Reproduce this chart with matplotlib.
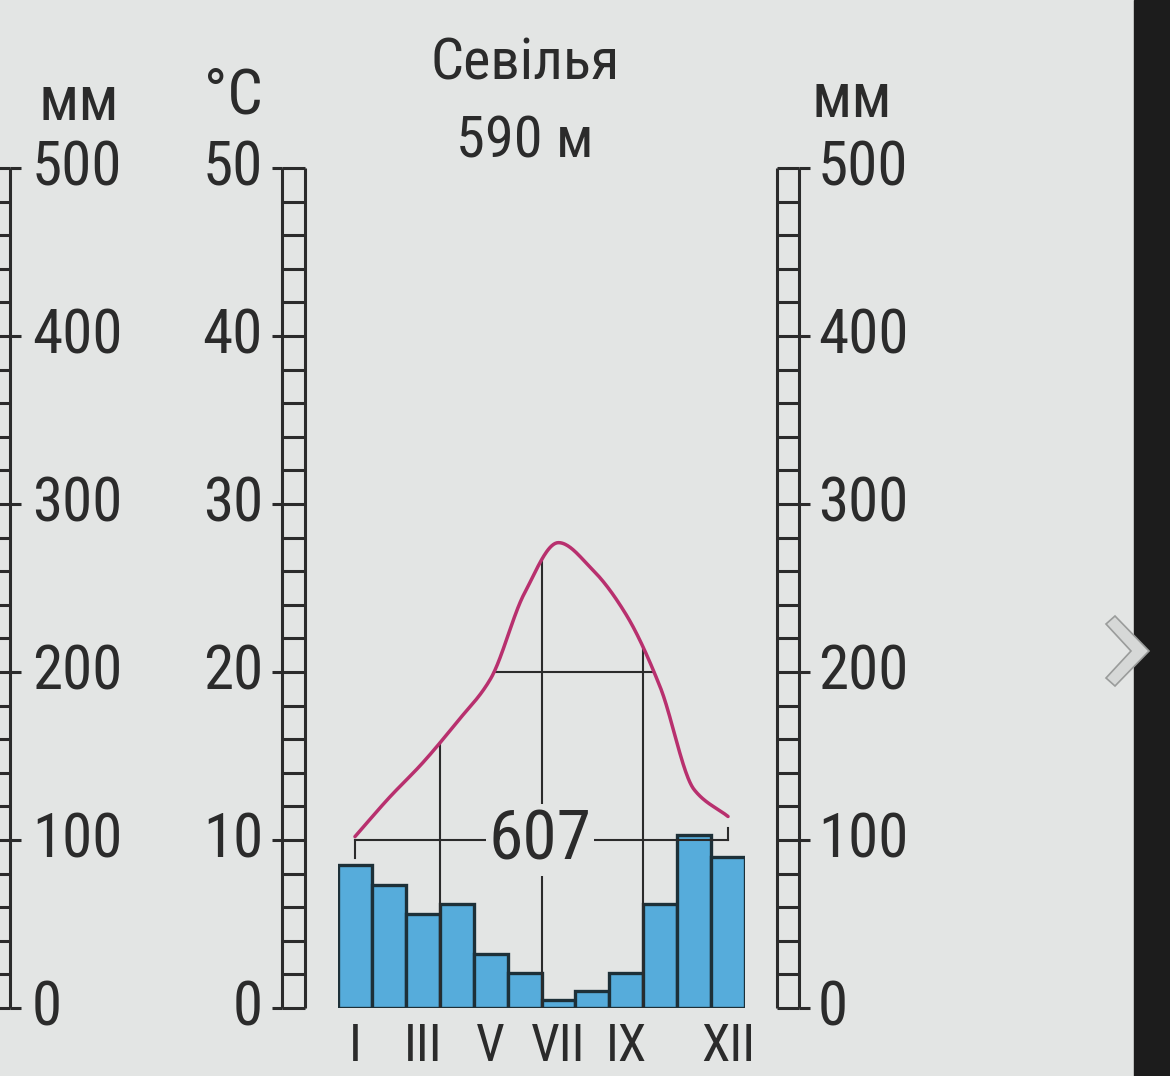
import matplotlib
matplotlib.use('Agg')
import matplotlib.pyplot as plt
from matplotlib import font_manager
from matplotlib.patches import Rectangle, Polygon
import numpy as np

# ── Data ─────────────────────────────────────────────────────────────────────
months      = np.arange(1, 13)
month_ticks = [1, 3, 5, 7, 9, 12]
month_names = ['I', 'III', 'V', 'VII', 'IX', 'XII']
temp_c      = [10.2, 12.5, 14.6, 17.0, 19.6, 24.7, 27.7, 26.1, 23.4, 19.1, 13.0, 11.4]
precip_mm   = [85, 73, 56, 62, 32, 21, 5, 10, 21, 62, 103, 90]
annual_mm   = '607'
station     = 'Севілья'
altitude    = '590 м'
temp_majors   = [0, 10, 20, 30, 40, 50]
precip_majors = [0, 100, 200, 300, 400, 500]
season_marks  = [3.5, 6.5, 9.5]     # month boundaries with vertical guides

# ── Style ─────────────────────────────────────────────────────────────────────
BG    = '#e3e5e4'
INK   = '#2b2b2b'
BAR   = '#56acdb'
BAREC = '#1d3038'
CURVE = '#b8306e'

# the printed diagram uses a condensed face; take one if the system has it
fm = font_manager.fontManager
names = {f.name for f in fm.ttflist}
FONT, STRETCH, NARROW = 'Liberation Sans', 'normal', False
for n in ['Liberation Sans Narrow', 'Roboto Condensed', 'Open Sans Condensed',
          'Noto Sans Condensed', 'DejaVu Sans Condensed']:
    if n in names:
        FONT, NARROW = n, True
        break
else:
    for f in fm.ttflist:
        if (f.stretch in ('condensed', 'semi-condensed') and f.style == 'normal'
                and f.name in ('Noto Sans', 'Open Sans', 'Roboto', 'DejaVu Sans', 'Lato', 'Inter')
                and f.weight in (400, 'normal', 'regular')):
            FONT, STRETCH, NARROW = f.name, f.stretch, True
            break
plt.rcParams['font.family'] = [FONT, 'DejaVu Sans']
plt.rcParams['font.stretch'] = STRETCH

FS_NUM  = 44 if NARROW else 40
FS_TTL  = 42 if NARROW else 40
FS_UNIT = 45 if NARROW else 42
FS_MON  = 37 if NARROW else 34
FS_SUM  = 50 if NARROW else 44

W, H = 1170, 1076
def fx(px): return px / W
def fy(py): return 1 - py / H

def pchip(x, y, per_seg=40):
    # monotone cubic (Fritsch–Carlson) through the monthly points
    x = np.asarray(x, float); y = np.asarray(y, float)
    h = np.diff(x); d = np.diff(y) / h
    m = np.zeros_like(y)
    for i in range(1, len(y) - 1):
        if d[i - 1] * d[i] > 0:
            w1, w2 = 2 * h[i] + h[i - 1], h[i] + 2 * h[i - 1]
            m[i] = (w1 + w2) / (w1 / d[i - 1] + w2 / d[i])
    m[0], m[-1] = d[0], d[-1]
    t = np.linspace(0, 1, per_seg, endpoint=False)
    ox, oy = [], []
    for i in range(len(x) - 1):
        h00 = 2 * t ** 3 - 3 * t ** 2 + 1
        h10 = t ** 3 - 2 * t ** 2 + t
        h01 = -2 * t ** 3 + 3 * t ** 2
        h11 = t ** 3 - t ** 2
        ox.append(x[i] + t * h[i])
        oy.append(h00 * y[i] + h10 * h[i] * m[i] + h01 * y[i + 1] + h11 * h[i] * m[i + 1])
    ox.append([x[-1]]); oy.append([y[-1]])
    return np.concatenate(ox), np.concatenate(oy)

fig = plt.figure(figsize=(W / 100, H / 100), dpi=100)
fig.patch.set_facecolor(BG)

# dark edge of the photographed screen + carousel chevron
fig.add_artist(Rectangle((fx(1134), 0), 1 - fx(1134), 1, transform=fig.transFigure,
                         color='#1c1c1c', zorder=0))
chev = [(1106, 624), (1115, 616), (1149, 651), (1115, 686), (1106, 678), (1131, 651)]
fig.add_artist(Polygon([(fx(a), fy(b)) for a, b in chev], closed=True, transform=fig.transFigure,
                       fc='#d6d8d7', ec='#9a9c9b', lw=1.2, zorder=1))

# ── Main plot area ────────────────────────────────────────────────────────────
top, bot = 168, 1008
ax = fig.add_axes([fx(338), fy(bot), 407 / W, (bot - top) / H])
ax_p = ax.twinx()
ax.set_zorder(ax_p.get_zorder() + 1)
ax.patch.set_visible(False)

ax_p.bar(months, precip_mm, width=1.0, color=BAR, edgecolor=BAREC, linewidth=2.4)
ax_p.set_ylim(0, 500)
ax_p.axis('off')

cx, cy = pchip(months, temp_c)
ax.plot(cx, cy, color=CURVE, lw=2.5, solid_capstyle='round', zorder=4)

# guides from the axis up to the curve
for m in season_marks:
    ax.plot([m, m], [0, np.interp(m, cx, cy)], color=INK, lw=1.5, zorder=3)
ipk = int(np.argmax(cy))
x20_l = np.interp(20, cy[:ipk], cx[:ipk])
x20_r = np.interp(20, cy[ipk:][::-1], cx[ipk:][::-1])
ax.plot([x20_l, x20_r], [20, 20], color=INK, lw=1.5, zorder=3)
ax.plot([months[0], months[-1]], [10, 10], color=INK, lw=1.5, zorder=3)
ax.plot([months[0], months[0]], [10, 8.9], color=INK, lw=1.5, zorder=3)
ax.plot([months[-1], months[-1]], [10, 10.7], color=INK, lw=1.5, zorder=3)

ax.text(6.45, 10, annual_mm, ha='center', va='center', fontsize=FS_SUM, color=INK, zorder=5,
        bbox=dict(fc=BG, ec='none', pad=2))

ax.set_xlim(0.5, 12.5)
ax.set_ylim(0, 50)
ax.set_xticks(month_ticks)
ax.set_xticklabels(month_names, fontsize=FS_MON, color=INK)
ax.tick_params(axis='x', length=0, pad=10)
ax.set_yticks([])
for s in ax.spines.values():
    s.set_visible(False)

# ── Ladder scales ─────────────────────────────────────────────────────────────
def ladder(x0, x1, vmax, step, majors, side, label_px):
    lax = fig.add_axes([fx(x0), fy(bot), (x1 - x0) / W, (bot - top) / H])
    lax.set_xlim(0, 1)
    lax.set_ylim(0, vmax)
    lax.axis('off')
    w = x1 - x0
    kw = dict(color=INK, lw=2.2, clip_on=False)
    lax.vlines([0, 1], 0, vmax, **kw)
    lax.hlines(np.arange(0, vmax + step / 2, step), 0, 1, **kw)
    if side == 'left':
        lax.hlines(majors, -10 / w, 0, **kw)
        lx, ha = (label_px - x0) / w, 'right'
    else:
        lax.hlines(majors, 1, 1 + 11 / w, **kw)
        lx, ha = (label_px - x0) / w, 'left'
    for v in majors:
        lax.text(lx, v, str(v), ha=ha, va='center', fontsize=FS_NUM, color=INK, clip_on=False)
    return lax

ladder(-12, 10, 500, 20, precip_majors, 'right', 32)
ladder(282, 305, 50, 2, temp_majors, 'left', 263)
ladder(777, 799, 500, 20, precip_majors, 'right', 818)

# ── Titles and units ──────────────────────────────────────────────────────────
fig.text(fx(525), fy(80), station, ha='center', va='baseline', fontsize=FS_TTL, color=INK)
fig.text(fx(525), fy(157), altitude, ha='center', va='baseline', fontsize=FS_TTL, color=INK)
fig.text(fx(79), fy(120), 'мм', ha='center', va='baseline', fontsize=FS_UNIT, color=INK)
fig.text(fx(852), fy(117), 'мм', ha='center', va='baseline', fontsize=FS_UNIT, color=INK)
fig.text(fx(233), fy(113), '°C', ha='center', va='baseline', fontsize=FS_UNIT, color=INK)

fig.savefig('out.png', dpi=100, facecolor=fig.get_facecolor())
